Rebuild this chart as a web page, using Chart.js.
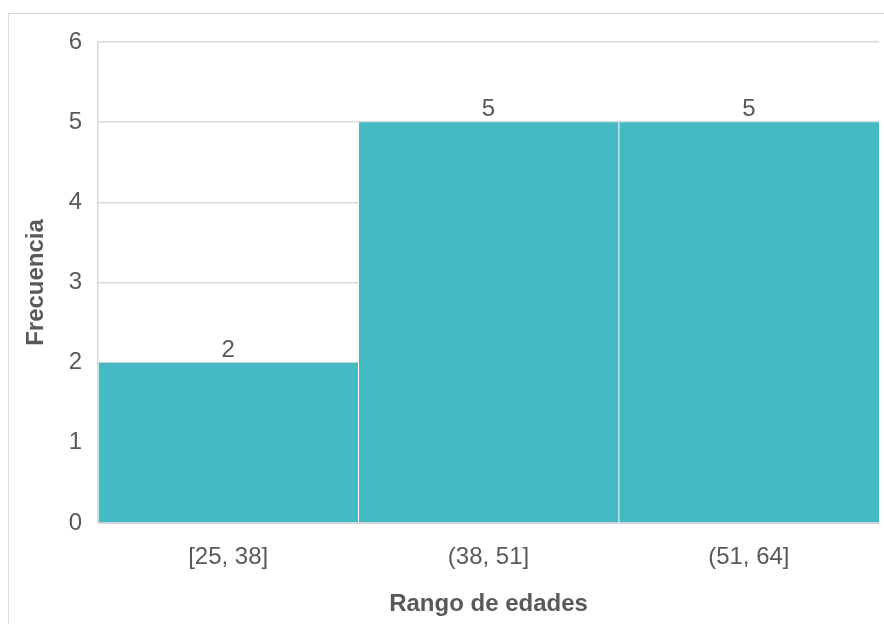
<!DOCTYPE html>
<html>
<head>
<meta charset="utf-8">
<script src="https://cdn.jsdelivr.net/npm/chart.js@4"></script>
<style>
  html, body { margin: 0; padding: 0; background: #fff; overflow: hidden; }
  #wrap { position: relative; width: 884px; height: 624px; }
  #frame { position: absolute; left: 8px; top: 13px; width: 900px; height: 700px; border: 1.5px solid #d9d9d9; box-sizing: border-box; }
  canvas { position: absolute; left: 0; top: 0; }
</style>
</head>
<body>
<div id="wrap">
  <div id="frame"></div>
  <canvas id="chart" width="884" height="624"></canvas>
</div>
<script>
// Histogram of age ranges
const categories = ['[25, 38]', '(38, 51]', '(51, 64]'];
const frequencies = [2, 5, 5];
const yTicks = [0, 1, 2, 3, 4, 5, 6];

const textColor = '#595959';
const gridColor = '#d9d9d9';
const barColor = '#45bac5';
const fontFamily = '"Liberation Sans", Arial, sans-serif';

// draws the value over each bar
const valueLabels = {
  id: 'valueLabels',
  afterDatasetsDraw(chart) {
    const ctx = chart.ctx;
    const meta = chart.getDatasetMeta(0);
    ctx.save();
    ctx.font = '24px ' + fontFamily;
    ctx.fillStyle = textColor;
    ctx.textAlign = 'center';
    ctx.textBaseline = 'alphabetic';
    meta.data.forEach((bar, i) => {
      ctx.fillText(String(frequencies[i]), bar.x, bar.y - 6);
    });
    ctx.restore();
  }
};

const ctx = document.getElementById('chart').getContext('2d');
new Chart(ctx, {
  type: 'bar',
  data: {
    labels: categories,
    datasets: [{
      data: frequencies,
      backgroundColor: barColor,
      borderColor: '#ffffff',
      borderWidth: { left: 1, right: 0, top: 0, bottom: 0 },
      borderSkipped: false,
      barPercentage: 1,
      categoryPercentage: 1
    }]
  },
  options: {
    responsive: false,
    animation: false,
    events: [],
    layout: { padding: { left: 22, top: 42, right: 5, bottom: 0 } },
    plugins: { legend: { display: false }, tooltip: { enabled: false } },
    scales: {
      x: {
        grid: { display: false, drawTicks: false },
        border: { display: true, color: gridColor, width: 1 },
        ticks: { color: textColor, padding: 20, font: { family: fontFamily, size: 24 } },
        title: {
          display: true,
          text: 'Rango de edades',
          color: textColor,
          padding: { top: 0, bottom: 5 },
          font: { family: fontFamily, size: 24, weight: 'bold' }
        },
        afterFit(scale) { scale.height = 101; }
      },
      y: {
        min: yTicks[0],
        max: yTicks[yTicks.length - 1],
        afterBuildTicks(scale) { scale.ticks = yTicks.map(v => ({ value: v })); },
        grid: { color: gridColor, lineWidth: 1.5, drawTicks: false },
        border: { display: true, color: gridColor, width: 1.5 },
        ticks: { color: textColor, padding: 16, font: { family: fontFamily, size: 24 } },
        title: {
          display: true,
          text: 'Frecuencia',
          color: textColor,
          padding: { top: 0, bottom: 0 },
          font: { family: fontFamily, size: 24, weight: 'bold' }
        },
        afterFit(scale) { scale.width = 76; }
      }
    }
  },
  plugins: [valueLabels]
});
</script>
</body>
</html>
